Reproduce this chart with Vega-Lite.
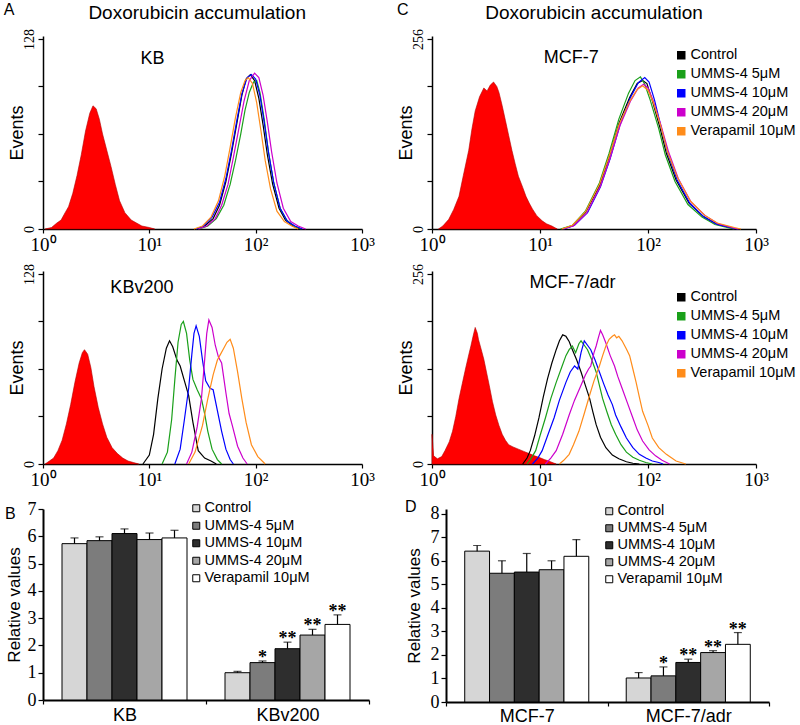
{
"$schema": "https://vega.github.io/schema/vega-lite/v6.json",
"background": "white",
"padding": {"left": 3, "top": 2, "right": 5, "bottom": 5},
"spacing": 10,
"resolve": {"scale": {"color": "independent", "fill": "independent", "x": "independent", "y": "independent", "xOffset": "independent"}, "legend": {"color": "independent", "fill": "independent"}},
"config": {
  "font": "Liberation Sans",
  "view": {"stroke": null},
  "axis": {"domainColor": "#000", "tickColor": "#000", "labelColor": "#000", "titleColor": "#000", "grid": false, "domainWidth": 1.5, "tickWidth": 1.2},
  "legend": {"labelFont": "Liberation Sans", "labelColor": "#000"},
  "text": {"font": "Liberation Sans", "color": "#000"},
  "title": {"color": "#000"}
},
"datasets": {
  "kb": [
    {"s":"Blank","x":0.02,"y":0},{"s":"Blank","x":0.08,"y":1},{"s":"Blank","x":0.13,"y":4},{"s":"Blank","x":0.17,"y":6},{"s":"Blank","x":0.2,"y":10},{"s":"Blank","x":0.24,"y":15},{"s":"Blank","x":0.28,"y":24},{"s":"Blank","x":0.32,"y":36},{"s":"Blank","x":0.36,"y":50},{"s":"Blank","x":0.4,"y":66},{"s":"Blank","x":0.44,"y":78},{"s":"Blank","x":0.47,"y":83},{"s":"Blank","x":0.5,"y":81},{"s":"Blank","x":0.53,"y":74},{"s":"Blank","x":0.56,"y":64},{"s":"Blank","x":0.6,"y":53},{"s":"Blank","x":0.64,"y":42},{"s":"Blank","x":0.68,"y":30},{"s":"Blank","x":0.72,"y":19},{"s":"Blank","x":0.77,"y":11},{"s":"Blank","x":0.83,"y":6},{"s":"Blank","x":0.88,"y":4},{"s":"Blank","x":0.93,"y":2},{"s":"Blank","x":1.0,"y":1},{"s":"Blank","x":1.05,"y":0},
    {"s":"Control","x":1.45,"y":0},{"s":"Control","x":1.52,"y":2},{"s":"Control","x":1.6,"y":7},{"s":"Control","x":1.66,"y":16},{"s":"Control","x":1.72,"y":32},{"s":"Control","x":1.77,"y":50},{"s":"Control","x":1.82,"y":70},{"s":"Control","x":1.87,"y":90},{"s":"Control","x":1.91,"y":101},{"s":"Control","x":1.95,"y":104},{"s":"Control","x":1.99,"y":100},{"s":"Control","x":2.03,"y":88},{"s":"Control","x":2.07,"y":70},{"s":"Control","x":2.11,"y":50},{"s":"Control","x":2.16,"y":30},{"s":"Control","x":2.22,"y":14},{"s":"Control","x":2.28,"y":6},{"s":"Control","x":2.35,"y":2},{"s":"Control","x":2.42,"y":0},
    {"s":"UMMS-4 5μM","x":1.47,"y":0},{"s":"UMMS-4 5μM","x":1.55,"y":2},{"s":"UMMS-4 5μM","x":1.63,"y":7},{"s":"UMMS-4 5μM","x":1.7,"y":16},{"s":"UMMS-4 5μM","x":1.76,"y":30},{"s":"UMMS-4 5μM","x":1.81,"y":46},{"s":"UMMS-4 5μM","x":1.86,"y":64},{"s":"UMMS-4 5μM","x":1.9,"y":80},{"s":"UMMS-4 5μM","x":1.94,"y":92},{"s":"UMMS-4 5μM","x":1.98,"y":99},{"s":"UMMS-4 5μM","x":2.01,"y":100},{"s":"UMMS-4 5μM","x":2.04,"y":92},{"s":"UMMS-4 5μM","x":2.08,"y":74},{"s":"UMMS-4 5μM","x":2.12,"y":52},{"s":"UMMS-4 5μM","x":2.17,"y":31},{"s":"UMMS-4 5μM","x":2.23,"y":14},{"s":"UMMS-4 5μM","x":2.29,"y":6},{"s":"UMMS-4 5μM","x":2.36,"y":2},{"s":"UMMS-4 5μM","x":2.43,"y":0},
    {"s":"UMMS-4 10μM","x":1.44,"y":0},{"s":"UMMS-4 10μM","x":1.51,"y":2},{"s":"UMMS-4 10μM","x":1.59,"y":8},{"s":"UMMS-4 10μM","x":1.66,"y":18},{"s":"UMMS-4 10μM","x":1.72,"y":34},{"s":"UMMS-4 10μM","x":1.77,"y":52},{"s":"UMMS-4 10μM","x":1.82,"y":72},{"s":"UMMS-4 10μM","x":1.87,"y":91},{"s":"UMMS-4 10μM","x":1.92,"y":102},{"s":"UMMS-4 10μM","x":1.96,"y":104},{"s":"UMMS-4 10μM","x":2.0,"y":101},{"s":"UMMS-4 10μM","x":2.04,"y":90},{"s":"UMMS-4 10μM","x":2.08,"y":72},{"s":"UMMS-4 10μM","x":2.12,"y":52},{"s":"UMMS-4 10μM","x":2.17,"y":31},{"s":"UMMS-4 10μM","x":2.23,"y":14},{"s":"UMMS-4 10μM","x":2.3,"y":5},{"s":"UMMS-4 10μM","x":2.37,"y":2},{"s":"UMMS-4 10μM","x":2.44,"y":0},
    {"s":"UMMS-4 20μM","x":1.46,"y":0},{"s":"UMMS-4 20μM","x":1.54,"y":2},{"s":"UMMS-4 20μM","x":1.62,"y":7},{"s":"UMMS-4 20μM","x":1.68,"y":16},{"s":"UMMS-4 20μM","x":1.74,"y":30},{"s":"UMMS-4 20μM","x":1.79,"y":48},{"s":"UMMS-4 20μM","x":1.84,"y":67},{"s":"UMMS-4 20μM","x":1.89,"y":86},{"s":"UMMS-4 20μM","x":1.94,"y":100},{"s":"UMMS-4 20μM","x":1.99,"y":105},{"s":"UMMS-4 20μM","x":2.03,"y":102},{"s":"UMMS-4 20μM","x":2.07,"y":90},{"s":"UMMS-4 20μM","x":2.11,"y":72},{"s":"UMMS-4 20μM","x":2.15,"y":52},{"s":"UMMS-4 20μM","x":2.2,"y":31},{"s":"UMMS-4 20μM","x":2.26,"y":14},{"s":"UMMS-4 20μM","x":2.33,"y":5},{"s":"UMMS-4 20μM","x":2.4,"y":2},{"s":"UMMS-4 20μM","x":2.47,"y":0},
    {"s":"Verapamil 10μM","x":1.42,"y":0},{"s":"Verapamil 10μM","x":1.5,"y":2},{"s":"Verapamil 10μM","x":1.58,"y":8},{"s":"Verapamil 10μM","x":1.65,"y":19},{"s":"Verapamil 10μM","x":1.71,"y":36},{"s":"Verapamil 10μM","x":1.76,"y":55},{"s":"Verapamil 10μM","x":1.81,"y":75},{"s":"Verapamil 10μM","x":1.86,"y":92},{"s":"Verapamil 10μM","x":1.9,"y":100},{"s":"Verapamil 10μM","x":1.93,"y":102},{"s":"Verapamil 10μM","x":1.97,"y":98},{"s":"Verapamil 10μM","x":2.01,"y":85},{"s":"Verapamil 10μM","x":2.05,"y":66},{"s":"Verapamil 10μM","x":2.09,"y":46},{"s":"Verapamil 10μM","x":2.14,"y":27},{"s":"Verapamil 10μM","x":2.2,"y":12},{"s":"Verapamil 10μM","x":2.27,"y":5},{"s":"Verapamil 10μM","x":2.34,"y":2},{"s":"Verapamil 10μM","x":2.4,"y":0}
  ],
  "kbv": [
    {"s":"Blank","x":0.02,"y":0},{"s":"Blank","x":0.06,"y":2},{"s":"Blank","x":0.1,"y":4},{"s":"Blank","x":0.14,"y":9},{"s":"Blank","x":0.18,"y":16},{"s":"Blank","x":0.22,"y":27},{"s":"Blank","x":0.26,"y":40},{"s":"Blank","x":0.3,"y":55},{"s":"Blank","x":0.34,"y":68},{"s":"Blank","x":0.37,"y":75},{"s":"Blank","x":0.39,"y":77},{"s":"Blank","x":0.42,"y":74},{"s":"Blank","x":0.45,"y":65},{"s":"Blank","x":0.48,"y":52},{"s":"Blank","x":0.52,"y":38},{"s":"Blank","x":0.56,"y":27},{"s":"Blank","x":0.6,"y":18},{"s":"Blank","x":0.65,"y":11},{"s":"Blank","x":0.7,"y":7},{"s":"Blank","x":0.75,"y":4},{"s":"Blank","x":0.8,"y":2},{"s":"Blank","x":0.85,"y":1},{"s":"Blank","x":0.9,"y":0},
    {"s":"Control","x":0.94,"y":0},{"s":"Control","x":1.0,"y":6},{"s":"Control","x":1.04,"y":20},{"s":"Control","x":1.08,"y":44},{"s":"Control","x":1.12,"y":64},{"s":"Control","x":1.16,"y":78},{"s":"Control","x":1.19,"y":83},{"s":"Control","x":1.22,"y":79},{"s":"Control","x":1.26,"y":70},{"s":"Control","x":1.29,"y":66},{"s":"Control","x":1.33,"y":56},{"s":"Control","x":1.37,"y":46},{"s":"Control","x":1.41,"y":28},{"s":"Control","x":1.46,"y":9},{"s":"Control","x":1.52,"y":4},{"s":"Control","x":1.58,"y":2},{"s":"Control","x":1.63,"y":0},
    {"s":"UMMS-4 5μM","x":1.12,"y":0},{"s":"UMMS-4 5μM","x":1.17,"y":8},{"s":"UMMS-4 5μM","x":1.21,"y":30},{"s":"UMMS-4 5μM","x":1.24,"y":57},{"s":"UMMS-4 5μM","x":1.27,"y":82},{"s":"UMMS-4 5μM","x":1.3,"y":94},{"s":"UMMS-4 5μM","x":1.32,"y":96},{"s":"UMMS-4 5μM","x":1.35,"y":88},{"s":"UMMS-4 5μM","x":1.38,"y":70},{"s":"UMMS-4 5μM","x":1.41,"y":57},{"s":"UMMS-4 5μM","x":1.45,"y":50},{"s":"UMMS-4 5μM","x":1.49,"y":44},{"s":"UMMS-4 5μM","x":1.52,"y":34},{"s":"UMMS-4 5μM","x":1.55,"y":22},{"s":"UMMS-4 5μM","x":1.59,"y":10},{"s":"UMMS-4 5μM","x":1.64,"y":3},{"s":"UMMS-4 5μM","x":1.68,"y":0},
    {"s":"UMMS-4 10μM","x":1.24,"y":0},{"s":"UMMS-4 10μM","x":1.29,"y":10},{"s":"UMMS-4 10μM","x":1.33,"y":30},{"s":"UMMS-4 10μM","x":1.37,"y":51},{"s":"UMMS-4 10μM","x":1.4,"y":74},{"s":"UMMS-4 10μM","x":1.42,"y":88},{"s":"UMMS-4 10μM","x":1.44,"y":93},{"s":"UMMS-4 10μM","x":1.47,"y":86},{"s":"UMMS-4 10μM","x":1.5,"y":70},{"s":"UMMS-4 10μM","x":1.53,"y":56},{"s":"UMMS-4 10μM","x":1.57,"y":51},{"s":"UMMS-4 10μM","x":1.6,"y":50},{"s":"UMMS-4 10μM","x":1.64,"y":36},{"s":"UMMS-4 10μM","x":1.68,"y":22},{"s":"UMMS-4 10μM","x":1.72,"y":10},{"s":"UMMS-4 10μM","x":1.76,"y":3},{"s":"UMMS-4 10μM","x":1.79,"y":0},
    {"s":"UMMS-4 20μM","x":1.35,"y":0},{"s":"UMMS-4 20μM","x":1.4,"y":8},{"s":"UMMS-4 20μM","x":1.45,"y":25},{"s":"UMMS-4 20μM","x":1.49,"y":44},{"s":"UMMS-4 20μM","x":1.52,"y":70},{"s":"UMMS-4 20μM","x":1.54,"y":88},{"s":"UMMS-4 20μM","x":1.56,"y":97},{"s":"UMMS-4 20μM","x":1.59,"y":92},{"s":"UMMS-4 20μM","x":1.62,"y":80},{"s":"UMMS-4 20μM","x":1.65,"y":72},{"s":"UMMS-4 20μM","x":1.68,"y":68},{"s":"UMMS-4 20μM","x":1.72,"y":48},{"s":"UMMS-4 20μM","x":1.75,"y":34},{"s":"UMMS-4 20μM","x":1.78,"y":26},{"s":"UMMS-4 20μM","x":1.83,"y":12},{"s":"UMMS-4 20μM","x":1.88,"y":4},{"s":"UMMS-4 20μM","x":1.92,"y":0},
    {"s":"Verapamil 10μM","x":1.37,"y":0},{"s":"Verapamil 10μM","x":1.43,"y":8},{"s":"Verapamil 10μM","x":1.5,"y":26},{"s":"Verapamil 10μM","x":1.55,"y":44},{"s":"Verapamil 10μM","x":1.6,"y":60},{"s":"Verapamil 10μM","x":1.64,"y":70},{"s":"Verapamil 10μM","x":1.67,"y":74},{"s":"Verapamil 10μM","x":1.7,"y":78},{"s":"Verapamil 10μM","x":1.73,"y":82},{"s":"Verapamil 10μM","x":1.76,"y":84},{"s":"Verapamil 10μM","x":1.79,"y":78},{"s":"Verapamil 10μM","x":1.83,"y":62},{"s":"Verapamil 10μM","x":1.87,"y":44},{"s":"Verapamil 10μM","x":1.91,"y":28},{"s":"Verapamil 10μM","x":1.96,"y":13},{"s":"Verapamil 10μM","x":2.02,"y":5},{"s":"Verapamil 10μM","x":2.09,"y":0}
  ],
  "mcf": [
    {"s":"Blank","x":0.06,"y":0},{"s":"Blank","x":0.1,"y":4},{"s":"Blank","x":0.155,"y":13},{"s":"Blank","x":0.2,"y":26},{"s":"Blank","x":0.25,"y":44},{"s":"Blank","x":0.29,"y":72},{"s":"Blank","x":0.34,"y":106},{"s":"Blank","x":0.37,"y":135},{"s":"Blank","x":0.4,"y":159},{"s":"Blank","x":0.44,"y":178},{"s":"Blank","x":0.48,"y":190},{"s":"Blank","x":0.51,"y":186},{"s":"Blank","x":0.54,"y":194},{"s":"Blank","x":0.57,"y":198},{"s":"Blank","x":0.6,"y":192},{"s":"Blank","x":0.62,"y":184},{"s":"Blank","x":0.65,"y":166},{"s":"Blank","x":0.68,"y":146},{"s":"Blank","x":0.71,"y":126},{"s":"Blank","x":0.74,"y":106},{"s":"Blank","x":0.77,"y":88},{"s":"Blank","x":0.8,"y":71},{"s":"Blank","x":0.84,"y":56},{"s":"Blank","x":0.87,"y":44},{"s":"Blank","x":0.9,"y":35},{"s":"Blank","x":0.93,"y":27},{"s":"Blank","x":0.97,"y":18},{"s":"Blank","x":1.02,"y":11},{"s":"Blank","x":1.06,"y":7},{"s":"Blank","x":1.11,"y":4},{"s":"Blank","x":1.16,"y":0},
    {"s":"Control","x":1.2,"y":0},{"s":"Control","x":1.3,"y":4},{"s":"Control","x":1.42,"y":22},{"s":"Control","x":1.55,"y":58},{"s":"Control","x":1.64,"y":97},{"s":"Control","x":1.73,"y":142},{"s":"Control","x":1.83,"y":177},{"s":"Control","x":1.9,"y":196},{"s":"Control","x":1.95,"y":200},{"s":"Control","x":1.99,"y":196},{"s":"Control","x":2.04,"y":173},{"s":"Control","x":2.11,"y":137},{"s":"Control","x":2.17,"y":102},{"s":"Control","x":2.26,"y":66},{"s":"Control","x":2.38,"y":35},{"s":"Control","x":2.51,"y":17},{"s":"Control","x":2.63,"y":7},{"s":"Control","x":2.78,"y":1},{"s":"Control","x":2.82,"y":0},
    {"s":"UMMS-4 5μM","x":1.19,"y":0},{"s":"UMMS-4 5μM","x":1.3,"y":5},{"s":"UMMS-4 5μM","x":1.42,"y":24},{"s":"UMMS-4 5μM","x":1.55,"y":62},{"s":"UMMS-4 5μM","x":1.64,"y":102},{"s":"UMMS-4 5μM","x":1.73,"y":148},{"s":"UMMS-4 5μM","x":1.82,"y":183},{"s":"UMMS-4 5μM","x":1.88,"y":200},{"s":"UMMS-4 5μM","x":1.93,"y":205},{"s":"UMMS-4 5μM","x":1.97,"y":195},{"s":"UMMS-4 5μM","x":2.02,"y":174},{"s":"UMMS-4 5μM","x":2.1,"y":135},{"s":"UMMS-4 5μM","x":2.16,"y":100},{"s":"UMMS-4 5μM","x":2.25,"y":64},{"s":"UMMS-4 5μM","x":2.37,"y":33},{"s":"UMMS-4 5μM","x":2.5,"y":16},{"s":"UMMS-4 5μM","x":2.62,"y":6},{"s":"UMMS-4 5μM","x":2.76,"y":1},{"s":"UMMS-4 5μM","x":2.8,"y":0},
    {"s":"UMMS-4 10μM","x":1.22,"y":0},{"s":"UMMS-4 10μM","x":1.32,"y":5},{"s":"UMMS-4 10μM","x":1.44,"y":22},{"s":"UMMS-4 10μM","x":1.56,"y":57},{"s":"UMMS-4 10μM","x":1.65,"y":95},{"s":"UMMS-4 10μM","x":1.74,"y":140},{"s":"UMMS-4 10μM","x":1.84,"y":178},{"s":"UMMS-4 10μM","x":1.91,"y":197},{"s":"UMMS-4 10μM","x":1.97,"y":204},{"s":"UMMS-4 10μM","x":2.01,"y":198},{"s":"UMMS-4 10μM","x":2.06,"y":174},{"s":"UMMS-4 10μM","x":2.12,"y":138},{"s":"UMMS-4 10μM","x":2.18,"y":103},{"s":"UMMS-4 10μM","x":2.27,"y":66},{"s":"UMMS-4 10μM","x":2.39,"y":34},{"s":"UMMS-4 10μM","x":2.52,"y":16},{"s":"UMMS-4 10μM","x":2.64,"y":6},{"s":"UMMS-4 10μM","x":2.79,"y":1},{"s":"UMMS-4 10μM","x":2.83,"y":0},
    {"s":"UMMS-4 20μM","x":1.21,"y":0},{"s":"UMMS-4 20μM","x":1.31,"y":4},{"s":"UMMS-4 20μM","x":1.43,"y":21},{"s":"UMMS-4 20μM","x":1.56,"y":58},{"s":"UMMS-4 20μM","x":1.65,"y":96},{"s":"UMMS-4 20μM","x":1.74,"y":139},{"s":"UMMS-4 20μM","x":1.84,"y":173},{"s":"UMMS-4 20μM","x":1.91,"y":190},{"s":"UMMS-4 20μM","x":1.96,"y":195},{"s":"UMMS-4 20μM","x":2.0,"y":190},{"s":"UMMS-4 20μM","x":2.05,"y":172},{"s":"UMMS-4 20μM","x":2.12,"y":140},{"s":"UMMS-4 20μM","x":2.19,"y":104},{"s":"UMMS-4 20μM","x":2.28,"y":68},{"s":"UMMS-4 20μM","x":2.4,"y":36},{"s":"UMMS-4 20μM","x":2.53,"y":18},{"s":"UMMS-4 20μM","x":2.65,"y":7},{"s":"UMMS-4 20μM","x":2.8,"y":1},{"s":"UMMS-4 20μM","x":2.84,"y":0},
    {"s":"Verapamil 10μM","x":1.2,"y":0},{"s":"Verapamil 10μM","x":1.3,"y":5},{"s":"Verapamil 10μM","x":1.42,"y":23},{"s":"Verapamil 10μM","x":1.55,"y":60},{"s":"Verapamil 10μM","x":1.64,"y":98},{"s":"Verapamil 10μM","x":1.73,"y":140},{"s":"Verapamil 10μM","x":1.83,"y":172},{"s":"Verapamil 10μM","x":1.9,"y":188},{"s":"Verapamil 10μM","x":1.95,"y":193},{"s":"Verapamil 10μM","x":2.0,"y":187},{"s":"Verapamil 10μM","x":2.05,"y":170},{"s":"Verapamil 10μM","x":2.12,"y":138},{"s":"Verapamil 10μM","x":2.18,"y":104},{"s":"Verapamil 10μM","x":2.27,"y":70},{"s":"Verapamil 10μM","x":2.39,"y":38},{"s":"Verapamil 10μM","x":2.52,"y":19},{"s":"Verapamil 10μM","x":2.64,"y":8},{"s":"Verapamil 10μM","x":2.8,"y":2},{"s":"Verapamil 10μM","x":2.86,"y":0}
  ],
  "mcfa": [
    {"s":"Blank","x":0,"y":40},{"s":"Blank","x":0.015,"y":11},{"s":"Blank","x":0.05,"y":7},{"s":"Blank","x":0.09,"y":10},{"s":"Blank","x":0.12,"y":18},{"s":"Blank","x":0.16,"y":30},{"s":"Blank","x":0.19,"y":44},{"s":"Blank","x":0.22,"y":64},{"s":"Blank","x":0.25,"y":88},{"s":"Blank","x":0.28,"y":108},{"s":"Blank","x":0.31,"y":128},{"s":"Blank","x":0.34,"y":147},{"s":"Blank","x":0.36,"y":159},{"s":"Blank","x":0.38,"y":172},{"s":"Blank","x":0.4,"y":184},{"s":"Blank","x":0.42,"y":176},{"s":"Blank","x":0.43,"y":168},{"s":"Blank","x":0.46,"y":152},{"s":"Blank","x":0.48,"y":141},{"s":"Blank","x":0.51,"y":120},{"s":"Blank","x":0.53,"y":106},{"s":"Blank","x":0.56,"y":84},{"s":"Blank","x":0.59,"y":66},{"s":"Blank","x":0.62,"y":52},{"s":"Blank","x":0.65,"y":40},{"s":"Blank","x":0.68,"y":32},{"s":"Blank","x":0.71,"y":26},{"s":"Blank","x":0.75,"y":23},{"s":"Blank","x":0.8,"y":20},{"s":"Blank","x":0.85,"y":17},{"s":"Blank","x":0.9,"y":14},{"s":"Blank","x":0.95,"y":11},{"s":"Blank","x":0.99,"y":9},{"s":"Blank","x":1.04,"y":6},{"s":"Blank","x":1.08,"y":4},{"s":"Blank","x":1.15,"y":0},
    {"s":"Control","x":0.84,"y":0},{"s":"Control","x":0.88,"y":8},{"s":"Control","x":0.91,"y":18},{"s":"Control","x":0.95,"y":38},{"s":"Control","x":0.99,"y":62},{"s":"Control","x":1.03,"y":90},{"s":"Control","x":1.07,"y":115},{"s":"Control","x":1.11,"y":136},{"s":"Control","x":1.15,"y":154},{"s":"Control","x":1.18,"y":166},{"s":"Control","x":1.21,"y":174},{"s":"Control","x":1.24,"y":172},{"s":"Control","x":1.27,"y":165},{"s":"Control","x":1.3,"y":154},{"s":"Control","x":1.34,"y":140},{"s":"Control","x":1.38,"y":124},{"s":"Control","x":1.42,"y":106},{"s":"Control","x":1.46,"y":88},{"s":"Control","x":1.49,"y":70},{"s":"Control","x":1.52,"y":53},{"s":"Control","x":1.56,"y":36},{"s":"Control","x":1.61,"y":22},{"s":"Control","x":1.67,"y":12},{"s":"Control","x":1.73,"y":7},{"s":"Control","x":1.8,"y":3},{"s":"Control","x":1.86,"y":1},{"s":"Control","x":1.92,"y":0},
    {"s":"UMMS-4 5μM","x":0.88,"y":0},{"s":"UMMS-4 5μM","x":0.92,"y":8},{"s":"UMMS-4 5μM","x":0.96,"y":18},{"s":"UMMS-4 5μM","x":1.0,"y":38},{"s":"UMMS-4 5μM","x":1.05,"y":62},{"s":"UMMS-4 5μM","x":1.1,"y":88},{"s":"UMMS-4 5μM","x":1.15,"y":110},{"s":"UMMS-4 5μM","x":1.2,"y":130},{"s":"UMMS-4 5μM","x":1.24,"y":146},{"s":"UMMS-4 5μM","x":1.27,"y":154},{"s":"UMMS-4 5μM","x":1.3,"y":159},{"s":"UMMS-4 5μM","x":1.33,"y":150},{"s":"UMMS-4 5μM","x":1.36,"y":162},{"s":"UMMS-4 5μM","x":1.38,"y":166},{"s":"UMMS-4 5μM","x":1.41,"y":160},{"s":"UMMS-4 5μM","x":1.44,"y":154},{"s":"UMMS-4 5μM","x":1.48,"y":140},{"s":"UMMS-4 5μM","x":1.52,"y":124},{"s":"UMMS-4 5μM","x":1.55,"y":106},{"s":"UMMS-4 5μM","x":1.58,"y":88},{"s":"UMMS-4 5μM","x":1.62,"y":70},{"s":"UMMS-4 5μM","x":1.66,"y":53},{"s":"UMMS-4 5μM","x":1.7,"y":40},{"s":"UMMS-4 5μM","x":1.75,"y":26},{"s":"UMMS-4 5μM","x":1.8,"y":16},{"s":"UMMS-4 5μM","x":1.86,"y":9},{"s":"UMMS-4 5μM","x":1.92,"y":5},{"s":"UMMS-4 5μM","x":1.98,"y":2},{"s":"UMMS-4 5μM","x":2.04,"y":0},
    {"s":"UMMS-4 10μM","x":0.93,"y":0},{"s":"UMMS-4 10μM","x":0.98,"y":8},{"s":"UMMS-4 10μM","x":1.02,"y":18},{"s":"UMMS-4 10μM","x":1.07,"y":38},{"s":"UMMS-4 10μM","x":1.13,"y":62},{"s":"UMMS-4 10μM","x":1.18,"y":86},{"s":"UMMS-4 10μM","x":1.24,"y":110},{"s":"UMMS-4 10μM","x":1.28,"y":124},{"s":"UMMS-4 10μM","x":1.32,"y":132},{"s":"UMMS-4 10μM","x":1.35,"y":128},{"s":"UMMS-4 10μM","x":1.38,"y":150},{"s":"UMMS-4 10μM","x":1.41,"y":166},{"s":"UMMS-4 10μM","x":1.44,"y":160},{"s":"UMMS-4 10μM","x":1.47,"y":154},{"s":"UMMS-4 10μM","x":1.51,"y":140},{"s":"UMMS-4 10μM","x":1.55,"y":124},{"s":"UMMS-4 10μM","x":1.59,"y":108},{"s":"UMMS-4 10μM","x":1.63,"y":93},{"s":"UMMS-4 10μM","x":1.67,"y":80},{"s":"UMMS-4 10μM","x":1.7,"y":66},{"s":"UMMS-4 10μM","x":1.75,"y":50},{"s":"UMMS-4 10μM","x":1.8,"y":35},{"s":"UMMS-4 10μM","x":1.86,"y":22},{"s":"UMMS-4 10μM","x":1.92,"y":13},{"s":"UMMS-4 10μM","x":1.98,"y":8},{"s":"UMMS-4 10μM","x":2.04,"y":4},{"s":"UMMS-4 10μM","x":2.1,"y":2},{"s":"UMMS-4 10μM","x":2.14,"y":0},
    {"s":"UMMS-4 20μM","x":1.05,"y":0},{"s":"UMMS-4 20μM","x":1.1,"y":8},{"s":"UMMS-4 20μM","x":1.15,"y":18},{"s":"UMMS-4 20μM","x":1.21,"y":40},{"s":"UMMS-4 20μM","x":1.27,"y":66},{"s":"UMMS-4 20μM","x":1.32,"y":86},{"s":"UMMS-4 20μM","x":1.38,"y":106},{"s":"UMMS-4 20μM","x":1.42,"y":120},{"s":"UMMS-4 20μM","x":1.45,"y":128},{"s":"UMMS-4 20μM","x":1.47,"y":132},{"s":"UMMS-4 20μM","x":1.5,"y":150},{"s":"UMMS-4 20μM","x":1.52,"y":159},{"s":"UMMS-4 20μM","x":1.54,"y":170},{"s":"UMMS-4 20μM","x":1.56,"y":180},{"s":"UMMS-4 20μM","x":1.58,"y":174},{"s":"UMMS-4 20μM","x":1.61,"y":163},{"s":"UMMS-4 20μM","x":1.65,"y":146},{"s":"UMMS-4 20μM","x":1.69,"y":132},{"s":"UMMS-4 20μM","x":1.72,"y":118},{"s":"UMMS-4 20μM","x":1.76,"y":102},{"s":"UMMS-4 20μM","x":1.81,"y":82},{"s":"UMMS-4 20μM","x":1.86,"y":62},{"s":"UMMS-4 20μM","x":1.9,"y":46},{"s":"UMMS-4 20μM","x":1.95,"y":31},{"s":"UMMS-4 20μM","x":2.01,"y":19},{"s":"UMMS-4 20μM","x":2.07,"y":11},{"s":"UMMS-4 20μM","x":2.13,"y":5},{"s":"UMMS-4 20μM","x":2.2,"y":0},
    {"s":"Verapamil 10μM","x":1.18,"y":0},{"s":"Verapamil 10μM","x":1.22,"y":5},{"s":"Verapamil 10μM","x":1.27,"y":13},{"s":"Verapamil 10μM","x":1.31,"y":26},{"s":"Verapamil 10μM","x":1.36,"y":44},{"s":"Verapamil 10μM","x":1.41,"y":68},{"s":"Verapamil 10μM","x":1.46,"y":93},{"s":"Verapamil 10μM","x":1.5,"y":112},{"s":"Verapamil 10μM","x":1.55,"y":132},{"s":"Verapamil 10μM","x":1.58,"y":146},{"s":"Verapamil 10μM","x":1.61,"y":159},{"s":"Verapamil 10μM","x":1.64,"y":168},{"s":"Verapamil 10μM","x":1.67,"y":172},{"s":"Verapamil 10μM","x":1.69,"y":174},{"s":"Verapamil 10μM","x":1.71,"y":170},{"s":"Verapamil 10μM","x":1.73,"y":172},{"s":"Verapamil 10μM","x":1.76,"y":166},{"s":"Verapamil 10μM","x":1.8,"y":155},{"s":"Verapamil 10μM","x":1.83,"y":146},{"s":"Verapamil 10μM","x":1.86,"y":128},{"s":"Verapamil 10μM","x":1.89,"y":110},{"s":"Verapamil 10μM","x":1.92,"y":90},{"s":"Verapamil 10μM","x":1.95,"y":71},{"s":"Verapamil 10μM","x":2.0,"y":52},{"s":"Verapamil 10μM","x":2.04,"y":35},{"s":"Verapamil 10μM","x":2.1,"y":22},{"s":"Verapamil 10μM","x":2.17,"y":13},{"s":"Verapamil 10μM","x":2.22,"y":8},{"s":"Verapamil 10μM","x":2.26,"y":4},{"s":"Verapamil 10μM","x":2.35,"y":0}
  ],
  "barB": [
    {"cell":"KB","treat":"Control","v":5.73,"hi":5.94,"sig":""},
    {"cell":"KB","treat":"UMMS-4 5μM","v":5.84,"hi":5.98,"sig":""},
    {"cell":"KB","treat":"UMMS-4 10μM","v":6.1,"hi":6.27,"sig":""},
    {"cell":"KB","treat":"UMMS-4 20μM","v":5.88,"hi":6.12,"sig":""},
    {"cell":"KB","treat":"Verapamil 10μM","v":5.94,"hi":6.22,"sig":""},
    {"cell":"KBv200","treat":"Control","v":1.0,"hi":1.05,"sig":""},
    {"cell":"KBv200","treat":"UMMS-4 5μM","v":1.37,"hi":1.43,"sig":"*"},
    {"cell":"KBv200","treat":"UMMS-4 10μM","v":1.88,"hi":2.12,"sig":"**"},
    {"cell":"KBv200","treat":"UMMS-4 20μM","v":2.38,"hi":2.59,"sig":"**"},
    {"cell":"KBv200","treat":"Verapamil 10μM","v":2.77,"hi":3.12,"sig":"**"}
  ],
  "barD": [
    {"cell":"MCF-7","treat":"Control","v":6.41,"hi":6.65,"sig":""},
    {"cell":"MCF-7","treat":"UMMS-4 5μM","v":5.47,"hi":6.0,"sig":""},
    {"cell":"MCF-7","treat":"UMMS-4 10μM","v":5.52,"hi":6.31,"sig":""},
    {"cell":"MCF-7","treat":"UMMS-4 20μM","v":5.62,"hi":6.0,"sig":""},
    {"cell":"MCF-7","treat":"Verapamil 10μM","v":6.19,"hi":6.9,"sig":""},
    {"cell":"MCF-7/adr","treat":"Control","v":1.02,"hi":1.25,"sig":""},
    {"cell":"MCF-7/adr","treat":"UMMS-4 5μM","v":1.11,"hi":1.49,"sig":"*"},
    {"cell":"MCF-7/adr","treat":"UMMS-4 10μM","v":1.68,"hi":1.82,"sig":"**"},
    {"cell":"MCF-7/adr","treat":"UMMS-4 20μM","v":2.1,"hi":2.18,"sig":"**"},
    {"cell":"MCF-7/adr","treat":"Verapamil 10μM","v":2.45,"hi":2.95,"sig":"**"}
  ]
},
"vconcat": [
{
 "columns": 2,
 "spacing": {"row": 9, "column": 22},
 "align": {"row": "each", "column": "none"},
 "resolve": {"scale": {"color": "independent", "x": "independent", "y": "independent"}, "legend": {"color": "independent"}},
 "concat": [
  {
    "width": 319, "height": 193,
    "data": {"name": "kb"},
    "layer": [
      {"transform": [{"filter": "datum.s == 'Blank'"}],
       "mark": {"type": "area", "fill": "#ff0000", "stroke": "#b30000", "strokeWidth": 0.6},
       "encoding": {
         "x": {"field": "x", "type": "quantitative", "scale": {"domain": [0, 3]}, "axis": {"values": [0, 1, 2, 3], "labelExpr": "datum.value == 0 ? '10⁰' : datum.value == 1 ? '10¹' : datum.value == 2 ? '10²' : '10³'", "labelFont": "Liberation Serif", "labelFontSize": 19, "labelPadding": 2, "tickSize": 4, "title": null, "labelFlush": false, "labelOverlap": false}},
         "y": {"field": "y", "type": "quantitative", "scale": {"domain": [0, 128]}, "axis": {"values": [0, 32, 64, 96, 128], "labelExpr": "datum.value == 0 || datum.value == 128 ? datum.label : ''", "labelAngle": 270, "labelAlign": "center", "labelBaseline": "bottom", "labelFont": "Liberation Serif", "labelFontSize": 14, "labelPadding": 2, "tickSize": 5, "title": "Events", "titleFont": "Liberation Sans", "titleFontSize": 18, "titleFontWeight": "normal", "titlePadding": -4, "labelOverlap": false, "labelFlush": false}}
       }},
      {"transform": [{"filter": "datum.s != 'Blank'"}],
       "mark": {"type": "line", "strokeWidth": 1.2},
       "encoding": {
         "x": {"field": "x", "type": "quantitative"},
         "y": {"field": "y", "type": "quantitative"},
         "color": {"field": "s", "type": "nominal", "scale": {"domain": ["Control", "UMMS-4 5μM", "UMMS-4 10μM", "UMMS-4 20μM", "Verapamil 10μM"], "range": ["#000000", "#1aa01a", "#0000ff", "#cc00cc", "#ff8c1a"]}, "legend": null}
       }},
      {"data": {"values": [{}]}, "mark": {"type": "text", "text": "KB", "fontSize": 18}, "encoding": {"x": {"datum": 1.03}, "y": {"datum": 114.7}}},
      {"data": {"values": [{}]}, "mark": {"type": "text", "text": "Doxorubicin accumulation", "fontSize": 19}, "encoding": {"x": {"datum": 1.45}, "y": {"datum": 145.2}}},
      {"data": {"values": [{}]}, "mark": {"type": "text", "text": "A", "fontSize": 16}, "encoding": {"x": {"datum": -0.32}, "y": {"datum": 147.2}}}
    ]
  },
  {
    "width": 324, "height": 193,
    "data": {"name": "mcf"},
    "layer": [
      {"transform": [{"filter": "datum.s == 'Blank'"}],
       "mark": {"type": "area", "fill": "#ff0000", "stroke": "#b30000", "strokeWidth": 0.6},
       "encoding": {
         "x": {"field": "x", "type": "quantitative", "scale": {"domain": [0, 3]}, "axis": {"values": [0, 1, 2, 3], "labelExpr": "datum.value == 0 ? '10⁰' : datum.value == 1 ? '10¹' : datum.value == 2 ? '10²' : '10³'", "labelFont": "Liberation Serif", "labelFontSize": 19, "labelPadding": 2, "tickSize": 4, "title": null, "labelFlush": false, "labelOverlap": false}},
         "y": {"field": "y", "type": "quantitative", "scale": {"domain": [0, 256]}, "axis": {"values": [0, 64, 128, 192, 256], "labelExpr": "datum.value == 0 || datum.value == 256 ? datum.label : ''", "labelAngle": 270, "labelAlign": "center", "labelBaseline": "bottom", "labelFont": "Liberation Serif", "labelFontSize": 14, "labelPadding": 2, "tickSize": 5, "title": "Events", "titleFont": "Liberation Sans", "titleFontSize": 18, "titleFontWeight": "normal", "titlePadding": -4, "labelOverlap": false, "labelFlush": false}}
       }},
      {"transform": [{"filter": "datum.s != 'Blank'"}],
       "mark": {"type": "line", "strokeWidth": 1.2},
       "encoding": {
         "x": {"field": "x", "type": "quantitative"},
         "y": {"field": "y", "type": "quantitative"},
         "color": {"field": "s", "type": "nominal", "scale": {"domain": ["Control", "UMMS-4 5μM", "UMMS-4 10μM", "UMMS-4 20μM", "Verapamil 10μM"], "range": ["#000000", "#1aa01a", "#0000ff", "#cc00cc", "#ff8c1a"]},
           "legend": {"title": null, "orient": "none", "legendX": 242, "legendY": 12, "symbolType": "square", "symbolSize": 16, "symbolStrokeWidth": 4.5, "labelFontSize": 14.5, "labelOffset": 2, "rowPadding": -5}}
       }},
      {"data": {"values": [{}]}, "mark": {"type": "text", "text": "MCF-7", "fontSize": 18}, "encoding": {"x": {"datum": 1.29}, "y": {"datum": 230.8}}},
      {"data": {"values": [{}]}, "mark": {"type": "text", "text": "Doxorubicin accumulation", "fontSize": 19}, "encoding": {"x": {"datum": 1.5}, "y": {"datum": 290.5}}},
      {"data": {"values": [{}]}, "mark": {"type": "text", "text": "C", "fontSize": 16}, "encoding": {"x": {"datum": -0.27}, "y": {"datum": 294.5}}}
    ]
  },
  {
    "width": 319, "height": 193,
    "data": {"name": "kbv"},
    "layer": [
      {"transform": [{"filter": "datum.s == 'Blank'"}],
       "mark": {"type": "area", "fill": "#ff0000", "stroke": "#b30000", "strokeWidth": 0.6},
       "encoding": {
         "x": {"field": "x", "type": "quantitative", "scale": {"domain": [0, 3]}, "axis": {"values": [0, 1, 2, 3], "labelExpr": "datum.value == 0 ? '10⁰' : datum.value == 1 ? '10¹' : datum.value == 2 ? '10²' : '10³'", "labelFont": "Liberation Serif", "labelFontSize": 19, "labelPadding": 2, "tickSize": 4, "title": null, "labelFlush": false, "labelOverlap": false}},
         "y": {"field": "y", "type": "quantitative", "scale": {"domain": [0, 128]}, "axis": {"values": [0, 32, 64, 96, 128], "labelExpr": "datum.value == 0 || datum.value == 128 ? datum.label : ''", "labelAngle": 270, "labelAlign": "center", "labelBaseline": "bottom", "labelFont": "Liberation Serif", "labelFontSize": 14, "labelPadding": 2, "tickSize": 5, "title": "Events", "titleFont": "Liberation Sans", "titleFontSize": 18, "titleFontWeight": "normal", "titlePadding": -4, "labelOverlap": false, "labelFlush": false}}
       }},
      {"transform": [{"filter": "datum.s != 'Blank'"}],
       "mark": {"type": "line", "strokeWidth": 1.2},
       "encoding": {
         "x": {"field": "x", "type": "quantitative"},
         "y": {"field": "y", "type": "quantitative"},
         "color": {"field": "s", "type": "nominal", "scale": {"domain": ["Control", "UMMS-4 5μM", "UMMS-4 10μM", "UMMS-4 20μM", "Verapamil 10μM"], "range": ["#000000", "#1aa01a", "#0000ff", "#cc00cc", "#ff8c1a"]}, "legend": null}
       }},
      {"data": {"values": [{}]}, "mark": {"type": "text", "text": "KBv200", "fontSize": 18}, "encoding": {"x": {"datum": 0.93}, "y": {"datum": 118.7}}}
    ]
  },
  {
    "width": 324, "height": 193,
    "data": {"name": "mcfa"},
    "layer": [
      {"transform": [{"filter": "datum.s == 'Blank'"}],
       "mark": {"type": "area", "fill": "#ff0000", "stroke": "#b30000", "strokeWidth": 0.6},
       "encoding": {
         "x": {"field": "x", "type": "quantitative", "scale": {"domain": [0, 3]}, "axis": {"values": [0, 1, 2, 3], "labelExpr": "datum.value == 0 ? '10⁰' : datum.value == 1 ? '10¹' : datum.value == 2 ? '10²' : '10³'", "labelFont": "Liberation Serif", "labelFontSize": 19, "labelPadding": 2, "tickSize": 4, "title": null, "labelFlush": false, "labelOverlap": false}},
         "y": {"field": "y", "type": "quantitative", "scale": {"domain": [0, 256]}, "axis": {"values": [0, 64, 128, 192, 256], "labelExpr": "datum.value == 0 || datum.value == 256 ? datum.label : ''", "labelAngle": 270, "labelAlign": "center", "labelBaseline": "bottom", "labelFont": "Liberation Serif", "labelFontSize": 14, "labelPadding": 2, "tickSize": 5, "title": "Events", "titleFont": "Liberation Sans", "titleFontSize": 18, "titleFontWeight": "normal", "titlePadding": -4, "labelOverlap": false, "labelFlush": false}}
       }},
      {"transform": [{"filter": "datum.s != 'Blank'"}],
       "mark": {"type": "line", "strokeWidth": 1.2},
       "encoding": {
         "x": {"field": "x", "type": "quantitative"},
         "y": {"field": "y", "type": "quantitative"},
         "color": {"field": "s", "type": "nominal", "scale": {"domain": ["Control", "UMMS-4 5μM", "UMMS-4 10μM", "UMMS-4 20μM", "Verapamil 10μM"], "range": ["#000000", "#1aa01a", "#0000ff", "#cc00cc", "#ff8c1a"]},
           "legend": {"title": null, "orient": "none", "legendX": 242, "legendY": 19, "symbolType": "square", "symbolSize": 16, "symbolStrokeWidth": 4.5, "labelFontSize": 14.5, "labelOffset": 2, "rowPadding": -5}}
       }},
      {"data": {"values": [{}]}, "mark": {"type": "text", "text": "MCF-7/adr", "fontSize": 18}, "encoding": {"x": {"datum": 1.3}, "y": {"datum": 243.4}}}
    ]
  }
 ]
},
{
 "spacing": 35,
 "align": "none",
 "resolve": {"scale": {"fill": "independent", "x": "independent", "y": "independent", "xOffset": "independent"}, "legend": {"fill": "independent"}},
 "hconcat": [
  {
    "width": 326, "height": 191,
    "data": {"name": "barB"},
    "title": {"text": "B", "anchor": "start", "frame": "bounds", "offset": -22, "fontSize": 16, "fontWeight": "normal", "font": "Liberation Sans"},
    "encoding": {
      "x": {"field": "cell", "type": "nominal", "sort": null, "scale": {"paddingInner": 0, "paddingOuter": 0}, "axis": {"title": null, "labelAngle": 0, "labelFont": "Liberation Sans", "labelFontSize": 18, "labelPadding": 2, "tickBand": "extent", "tickSize": 4, "domainWidth": 2}},
      "xOffset": {"field": "treat", "type": "nominal", "sort": null, "scale": {"domain": ["Control", "UMMS-4 5μM", "UMMS-4 10μM", "UMMS-4 20μM", "Verapamil 10μM"], "paddingInner": 0, "paddingOuter": 0.76}}
    },
    "layer": [
      {"mark": {"type": "bar", "stroke": "#000", "strokeWidth": 1},
       "encoding": {
         "y": {"field": "v", "type": "quantitative", "scale": {"domain": [0, 7], "nice": false}, "axis": {"values": [0, 1, 2, 3, 4, 5, 6, 7], "tickCount": 8, "labelOverlap": false, "title": "Relative values", "titleFont": "Liberation Sans", "titleFontSize": 17, "titleFontWeight": "normal", "titlePadding": 4, "labelFont": "Liberation Serif", "labelFontSize": 18, "labelPadding": 2, "tickSize": 5, "domainWidth": 2, "labelFlush": false}},
         "fill": {"field": "treat", "type": "nominal", "scale": {"domain": ["Control", "UMMS-4 5μM", "UMMS-4 10μM", "UMMS-4 20μM", "Verapamil 10μM"], "range": ["#d6d6d6", "#7c7c7c", "#2e2e2e", "#a6a6a6", "#ffffff"]},
           "legend": {"title": null, "orient": "none", "legendX": 146, "legendY": -8, "symbolType": "square", "symbolSize": 49, "symbolStrokeColor": "#000", "symbolStrokeWidth": 1, "labelFontSize": 14.5, "labelOffset": 1, "rowPadding": 2.5}}
       }},
      {"mark": {"type": "rule", "color": "#000", "strokeWidth": 1.2}, "encoding": {"y": {"field": "v", "type": "quantitative", "axis": {"values": [0, 1, 2, 3, 4, 5, 6, 7], "tickCount": 8, "labelOverlap": false}}, "y2": {"field": "hi"}}},
      {"mark": {"type": "tick", "color": "#000", "size": 8, "thickness": 1.2}, "encoding": {"y": {"field": "hi", "type": "quantitative", "axis": {"values": [0, 1, 2, 3, 4, 5, 6, 7], "tickCount": 8, "labelOverlap": false}}}},
      {"mark": {"type": "text", "font": "Liberation Serif", "fontSize": 18, "fontWeight": "bold", "baseline": "alphabetic", "dy": 2}, "encoding": {"y": {"field": "hi", "type": "quantitative", "axis": {"values": [0, 1, 2, 3, 4, 5, 6, 7], "tickCount": 8, "labelOverlap": false}}, "text": {"field": "sig"}}}
    ]
  },
  {
    "width": 323, "height": 193,
    "data": {"name": "barD"},
    "title": {"text": "D", "anchor": "start", "frame": "bounds", "offset": -11, "fontSize": 16, "fontWeight": "normal", "font": "Liberation Sans"},
    "encoding": {
      "x": {"field": "cell", "type": "nominal", "sort": null, "scale": {"paddingInner": 0, "paddingOuter": 0}, "axis": {"title": null, "labelAngle": 0, "labelFont": "Liberation Sans", "labelFontSize": 18, "labelPadding": 1, "tickBand": "extent", "tickSize": 4, "domainWidth": 2}},
      "xOffset": {"field": "treat", "type": "nominal", "sort": null, "scale": {"domain": ["Control", "UMMS-4 5μM", "UMMS-4 10μM", "UMMS-4 20μM", "Verapamil 10μM"], "paddingInner": 0, "paddingOuter": 0.755}}
    },
    "layer": [
      {"mark": {"type": "bar", "stroke": "#000", "strokeWidth": 1},
       "encoding": {
         "y": {"field": "v", "type": "quantitative", "scale": {"domain": [0, 8.2], "nice": false}, "axis": {"values": [0, 1, 2, 3, 4, 5, 6, 7, 8], "tickCount": 9, "labelOverlap": false, "title": "Relative values", "titleFont": "Liberation Sans", "titleFontSize": 17, "titleFontWeight": "normal", "titlePadding": 7, "labelFont": "Liberation Serif", "labelFontSize": 18, "labelPadding": 2, "tickSize": 5, "domainWidth": 2, "labelFlush": false}},
         "fill": {"field": "treat", "type": "nominal", "scale": {"domain": ["Control", "UMMS-4 5μM", "UMMS-4 10μM", "UMMS-4 20μM", "Verapamil 10μM"], "range": ["#d6d6d6", "#7c7c7c", "#2e2e2e", "#a6a6a6", "#ffffff"]},
           "legend": {"title": null, "orient": "none", "legendX": 156, "legendY": -5, "symbolType": "square", "symbolSize": 49, "symbolStrokeColor": "#000", "symbolStrokeWidth": 1, "labelFontSize": 14.5, "labelOffset": 1, "rowPadding": 2}}
       }},
      {"mark": {"type": "rule", "color": "#000", "strokeWidth": 1.2}, "encoding": {"y": {"field": "v", "type": "quantitative", "axis": {"values": [0, 1, 2, 3, 4, 5, 6, 7, 8], "tickCount": 9, "labelOverlap": false}}, "y2": {"field": "hi"}}},
      {"mark": {"type": "tick", "color": "#000", "size": 8, "thickness": 1.2}, "encoding": {"y": {"field": "hi", "type": "quantitative", "axis": {"values": [0, 1, 2, 3, 4, 5, 6, 7, 8], "tickCount": 9, "labelOverlap": false}}}},
      {"mark": {"type": "text", "font": "Liberation Serif", "fontSize": 18, "fontWeight": "bold", "baseline": "alphabetic", "dy": 2}, "encoding": {"y": {"field": "hi", "type": "quantitative", "axis": {"values": [0, 1, 2, 3, 4, 5, 6, 7, 8], "tickCount": 9, "labelOverlap": false}}, "text": {"field": "sig"}}}
    ]
  }
 ]
}
]
}
